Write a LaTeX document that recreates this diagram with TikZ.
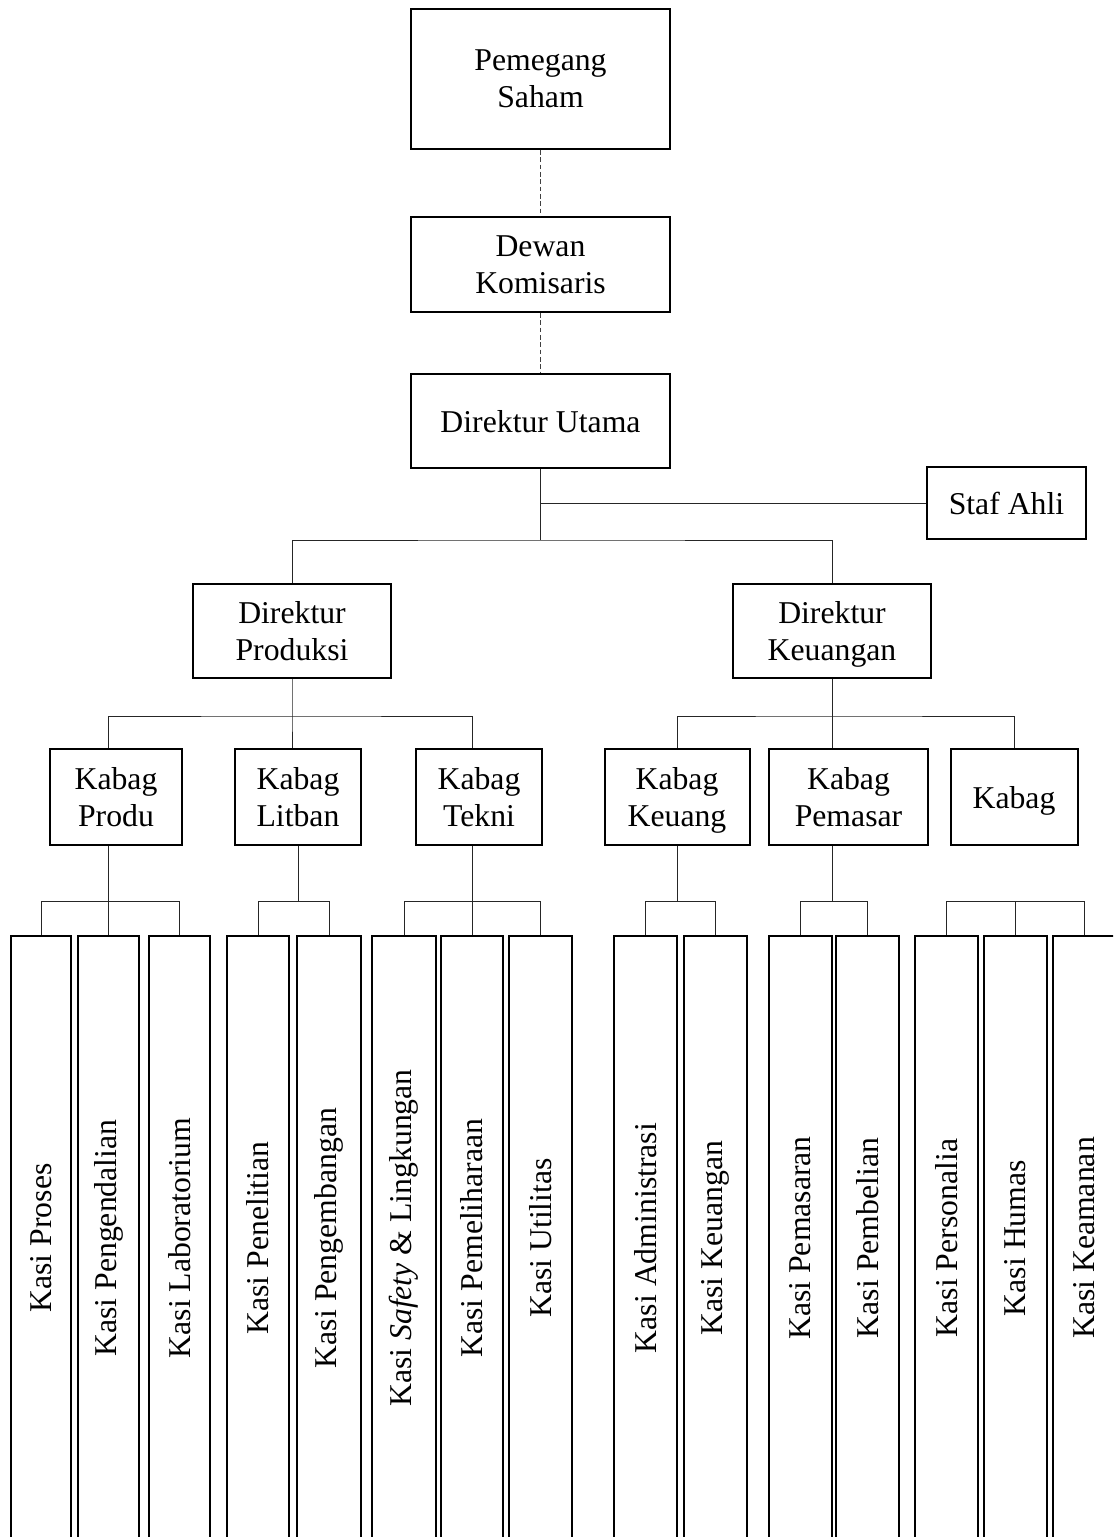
\documentclass[tikz,border=0pt]{standalone}
\usepackage{fontspec}
\setmainfont{Liberation Serif}
\usepackage{graphicx}

\tikzset{every picture/.style={line width=0.75pt}}
\tikzset{
  unit/.style={draw, line width=1.5pt, align=center, inner sep=0pt, text depth=0pt, font=\fontsize{23.8}{27.75}\selectfont},
  kabag/.style={unit, minimum height=72pt},
  kasi/.style={unit, minimum height=453pt},
  link/.style={line width=0.75pt, color=black!85},
  dotlink/.style={link, color=black!75, dash pattern=on 3.5pt off 2pt},
}

\begin{document}
\begin{tikzpicture}[x=0.75pt,y=0.75pt,yscale=-1,xscale=1]
\useasboundingbox (0,0) rectangle (1113,1537);
\clip (0,0) rectangle (1113,1537);

%Shape: Rectangle [top]
\node[unit, minimum width=194.25pt, minimum height=105pt] (ps) at (540.5,79) {Pemegang\\Saham};
\node[unit, minimum width=194.25pt, minimum height=71.25pt] (dk) at (540.5,264.5) {Dewan\\Komisaris};
\node[unit, minimum width=194.25pt, minimum height=70.5pt] (du) at (540.5,421) {Direktur Utama};
\node[unit, minimum width=119.25pt, minimum height=54pt] (sa) at (1006.5,503) {Staf Ahli};

%Shape: Rectangle [direktur]
\node[unit, minimum width=148.5pt, minimum height=70.5pt] (dp) at (292,631) {Direktur\\Produksi};
\node[unit, minimum width=148.5pt, minimum height=70.5pt] (dkeu) at (832,631) {Direktur\\Keuangan};

%Shape: Rectangle [kabag]
\node[kabag, minimum width=99pt] (kprod) at (116,797) {Kabag\\Produ};
\node[kabag, minimum width=94.5pt] (klit) at (298,797) {Kabag\\Litban};
\node[kabag, minimum width=94.5pt] (ktek) at (479,797) {Kabag\\Tekni};
\node[kabag, minimum width=108.75pt] (kkeu) at (677,797) {Kabag\\Keuang};
\node[kabag, minimum width=119.25pt] (kpsr) at (848.5,797) {Kabag\\Pemasar};
\node[kabag, minimum width=95.25pt] (kbag) at (1014,797) {Kabag};

%Shape: Rectangle [kasi]
\node[kasi, minimum width=45pt] (kproses) at (41,1238) {\rotatebox{90}{Kasi Proses}};
\node[kasi, minimum width=45.75pt] (kpeng) at (108.5,1238) {\rotatebox{90}{Kasi Pengendalian}};
\node[kasi, minimum width=45.75pt] (klab) at (179.5,1238) {\rotatebox{90}{Kasi Laboratorium}};
\node[kasi, minimum width=46.5pt] (kpenel) at (258,1238) {\rotatebox{90}{Kasi Penelitian}};
\node[kasi, minimum width=48pt] (kpengb) at (329,1238) {\rotatebox{90}{Kasi Pengembangan}};
\node[kasi, minimum width=48pt] (ksafe) at (404,1238) {\rotatebox{90}{Kasi \textit{Safety} \& Lingkungan}};
\node[kasi, minimum width=46.5pt] (kpml) at (472,1238) {\rotatebox{90}{Kasi Pemeliharaan}};
\node[kasi, minimum width=47.25pt] (kutil) at (540.5,1238) {\rotatebox{90}{Kasi Utilitas}};
\node[kasi, minimum width=47.25pt] (kadm) at (645.5,1238) {\rotatebox{90}{Kasi Administrasi}};
\node[kasi, minimum width=47.25pt] (kkeuangan) at (715.5,1238) {\rotatebox{90}{Kasi Keuangan}};
\node[kasi, minimum width=47.25pt] (kpsrn) at (800.5,1238) {\rotatebox{90}{Kasi Pemasaran}};
\node[kasi, minimum width=47.25pt] (kbeli) at (867.5,1238) {\rotatebox{90}{Kasi Pembelian}};
\node[kasi, minimum width=47.25pt] (kpers) at (946.5,1238) {\rotatebox{90}{Kasi Personalia}};
\node[kasi, minimum width=47.25pt] (khumas) at (1015.5,1238) {\rotatebox{90}{Kasi Humas}};
\node[kasi, minimum width=47.25pt] (kaman) at (1084.5,1238) {\rotatebox{90}{Kasi Keamanan}};

%Straight Lines [dashed]
\draw[dotlink] (ps) -- (dk);
\draw[dotlink] (dk) -- (du);

%Straight Lines [direktur utama]
\coordinate (busA) at (540.5,540);
\draw[link] (du) -- (busA);
\draw[link] (du.south |- sa) -- (sa);
\draw[link] (dp) |- (busA) -| (dkeu);

%Straight Lines [produksi]
\coordinate (busP) at (292,716);
\coordinate (lvl) at (0,901);
\draw[link] (dp) -- (busP) -- (busP |- klit.north);
\draw[link] (kprod.north -| kpeng) |- (busP) -| (ktek.north -| kpml);
\draw[link] (kprod.south -| kpeng) -- (kpeng);
\draw[link] (kproses) |- (kpeng |- lvl) -| (klab);
\draw[link] (klit) -- (klit |- lvl);
\draw[link] (kpenel) |- (klit |- lvl) -| (kpengb);
\draw[link] (ktek.south -| kpml) -- (kpml);
\draw[link] (ksafe) |- (kpml |- lvl) -| (kutil);

%Straight Lines [keuangan]
\coordinate (busK) at (832,716);
\draw[link] (dkeu) -- (busK) -- (busK |- kpsr.north);
\draw[link] (kkeu) |- (busK) -| (kbag);
\draw[link] (kkeu) -- (kkeu |- lvl);
\draw[link] (kadm) |- (kkeu |- lvl) -| (kkeuangan);
\draw[link] (busK |- kpsr.south) -- (busK |- lvl);
\draw[link] (kpsrn) |- (busK |- lvl) -| (kbeli);
\draw[link] (kpers) |- (khumas |- lvl) -| (kaman);
\draw[link] (khumas |- lvl) -- (khumas);

\end{tikzpicture}
\end{document}
